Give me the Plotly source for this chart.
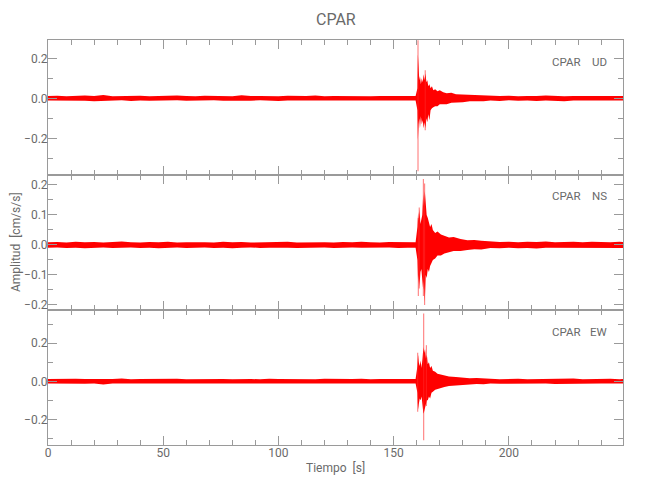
import plotly.graph_objects as go

# ---------------- data ----------------
TITLE = "CPAR"
STATION = "CPAR"
CHANNELS = ["UD", "NS", "EW"]

# sample times of the pre-event noise envelope [s]
T_PRE = [0, 4, 8, 12, 16, 20, 24, 28, 32, 36, 40, 44, 48, 52, 56, 60, 64, 68, 72, 76,
         80, 84, 88, 92, 96, 100, 104, 108, 112, 116, 120, 124, 128, 132, 136, 140, 144, 148, 152, 156]
# sample times of the post-event noise envelope [s]
T_POST = [192, 196, 200, 204, 208, 212, 216, 220, 224, 228, 232, 236, 240, 244, 248, 249.5]

# ---- UD ----
UD_PRE_UP = [0.011, 0.013, 0.010, 0.012, 0.014, 0.011, 0.017, 0.010, 0.012, 0.011,
             0.013, 0.010, 0.012, 0.011, 0.014, 0.011, 0.010, 0.013, 0.011, 0.012,
             0.010, 0.015, 0.011, 0.012, 0.011, 0.010, 0.013, 0.012, 0.011, 0.014,
             0.010, 0.012, 0.011, 0.013, 0.011, 0.010, 0.012, 0.011, 0.013, 0.011]
UD_PRE_LO = [-0.011, -0.010, -0.013, -0.011, -0.012, -0.015, -0.011, -0.012, -0.010, -0.013,
             -0.011, -0.012, -0.014, -0.011, -0.010, -0.012, -0.013, -0.011, -0.010, -0.012,
             -0.011, -0.013, -0.012, -0.010, -0.011, -0.014, -0.011, -0.012, -0.010, -0.011,
             -0.013, -0.011, -0.012, -0.010, -0.011, -0.013, -0.011, -0.012, -0.010, -0.011]
UD_EVT_T = [159.5, 160.3, 160.5, 160.8, 161.1, 161.4, 161.8, 162.2, 162.6, 163.0, 163.4, 163.8,
            164.2, 164.6, 165.0, 165.5, 166.0, 166.6, 167.2, 168.0, 169.0, 170.0, 171.5,
            173.0, 175.0, 177.0, 180.0, 183.0, 186.0, 189.0]
UD_EVT_UP = [0.011, 0.05, 0.22, 0.16, 0.09, 0.11, 0.07, 0.10, 0.08, 0.12, 0.09, 0.125,
             0.08, 0.09, 0.06, 0.07, 0.05, 0.06, 0.04, 0.045, 0.035, 0.04, 0.03,
             0.025, 0.028, 0.02, 0.018, 0.016, 0.017, 0.014]
UD_EVT_LO = [-0.011, -0.06, -0.21, -0.13, -0.10, -0.15, -0.09, -0.13, -0.11, -0.15, -0.12, -0.15,
             -0.10, -0.12, -0.08, -0.11, -0.06, -0.05, -0.045, -0.04, -0.04, -0.03, -0.03,
             -0.03, -0.022, -0.02, -0.02, -0.015, -0.014, -0.015]
UD_POST_UP = [0.012, 0.011, 0.013, 0.010, 0.012, 0.011, 0.014, 0.011, 0.010, 0.012,
              0.011, 0.013, 0.011, 0.012, 0.010, 0.011]
UD_POST_LO = [-0.011, -0.013, -0.010, -0.012, -0.011, -0.014, -0.011, -0.012, -0.015, -0.011,
              -0.010, -0.012, -0.011, -0.013, -0.011, -0.011]
UD_SPIKE_T = [160.55, 163.7]
UD_SPIKE_HI = [0.29, 0.14]
UD_SPIKE_LO = [-0.365, -0.16]

# ---- NS ----
NS_PRE_UP = [0.009, 0.010, 0.008, 0.011, 0.009, 0.010, 0.008, 0.009, 0.012, 0.009,
             0.008, 0.010, 0.009, 0.011, 0.008, 0.009, 0.010, 0.009, 0.008, 0.011,
             0.009, 0.010, 0.008, 0.009, 0.010, 0.009, 0.011, 0.008, 0.009, 0.010,
             0.009, 0.008, 0.010, 0.009, 0.011, 0.009, 0.008, 0.010, 0.009, 0.009]
NS_PRE_LO = [-0.009, -0.008, -0.010, -0.009, -0.011, -0.009, -0.008, -0.010, -0.009, -0.008,
             -0.010, -0.009, -0.011, -0.009, -0.008, -0.010, -0.009, -0.008, -0.010, -0.009,
             -0.011, -0.009, -0.008, -0.010, -0.009, -0.008, -0.009, -0.010, -0.011, -0.009,
             -0.008, -0.010, -0.009, -0.008, -0.009, -0.010, -0.009, -0.008, -0.010, -0.009]
NS_EVT_T = [159.5, 160.3, 160.6, 160.9, 161.2, 161.6, 162.0, 162.4, 162.8, 163.1, 163.5,
            163.9, 164.3, 164.8, 165.3, 165.8, 166.4, 167.0, 168.0, 169.0, 170.5, 172.0,
            174.0, 176.0, 179.0, 182.0, 185.0, 188.0]
NS_EVT_UP = [0.009, 0.06, 0.11, 0.08, 0.12, 0.07, 0.09, 0.10, 0.17, 0.13, 0.18,
             0.12, 0.10, 0.09, 0.07, 0.06, 0.07, 0.05, 0.04, 0.045, 0.035, 0.03,
             0.025, 0.027, 0.02, 0.016, 0.017, 0.014]
NS_EVT_LO = [-0.009, -0.05, -0.13, -0.10, -0.14, -0.09, -0.08, -0.12, -0.15, -0.12, -0.19,
             -0.10, -0.11, -0.08, -0.09, -0.07, -0.06, -0.05, -0.045, -0.035, -0.035, -0.028,
             -0.025, -0.02, -0.02, -0.017, -0.014, -0.015]
NS_POST_UP = [0.012, 0.010, 0.011, 0.009, 0.011, 0.010, 0.012, 0.009, 0.010, 0.011,
              0.009, 0.011, 0.010, 0.009, 0.011, 0.010]
NS_POST_LO = [-0.010, -0.011, -0.009, -0.011, -0.010, -0.012, -0.009, -0.011, -0.010, -0.009,
              -0.011, -0.010, -0.009, -0.011, -0.010, -0.010]
NS_SPIKE_T = [160.7, 161.1, 162.9, 163.4]
NS_SPIKE_HI = [0.09, 0.125, 0.22, 0.205]
NS_SPIKE_LO = [-0.17, -0.145, -0.17, -0.20]

# ---- EW ----
EW_PRE_UP = [0.012, 0.013, 0.011, 0.014, 0.012, 0.011, 0.013, 0.012, 0.015, 0.011,
             0.012, 0.013, 0.011, 0.012, 0.014, 0.011, 0.012, 0.013, 0.011, 0.012,
             0.011, 0.013, 0.012, 0.011, 0.014, 0.012, 0.011, 0.013, 0.012, 0.011,
             0.013, 0.012, 0.011, 0.012, 0.014, 0.011, 0.012, 0.011, 0.013, 0.012]
EW_PRE_LO = [-0.012, -0.011, -0.014, -0.012, -0.013, -0.011, -0.017, -0.012, -0.011, -0.013,
             -0.012, -0.011, -0.013, -0.012, -0.011, -0.014, -0.012, -0.011, -0.013, -0.012,
             -0.011, -0.012, -0.014, -0.011, -0.012, -0.013, -0.011, -0.012, -0.011, -0.013,
             -0.012, -0.011, -0.014, -0.012, -0.011, -0.012, -0.013, -0.011, -0.012, -0.012]
EW_EVT_T = [159.5, 160.3, 160.6, 160.9, 161.3, 161.7, 162.1, 162.5, 162.9, 163.2, 163.6,
            164.0, 164.4, 164.8, 165.3, 165.8, 166.4, 167.0, 168.0, 169.0, 170.5, 172.0,
            174.0, 177.0, 180.0, 183.0, 186.0, 189.0]
EW_EVT_UP = [0.012, 0.08, 0.14, 0.10, 0.08, 0.11, 0.07, 0.12, 0.18, 0.15, 0.17,
             0.12, 0.14, 0.09, 0.10, 0.07, 0.08, 0.055, 0.05, 0.04, 0.035, 0.03,
             0.025, 0.022, 0.02, 0.016, 0.018, 0.014]
EW_EVT_LO = [-0.012, -0.06, -0.15, -0.12, -0.09, -0.10, -0.08, -0.12, -0.17, -0.16, -0.15,
             -0.12, -0.10, -0.10, -0.08, -0.09, -0.06, -0.055, -0.045, -0.04, -0.035, -0.03,
             -0.025, -0.02, -0.018, -0.017, -0.014, -0.015]
EW_POST_UP = [0.013, 0.011, 0.012, 0.014, 0.011, 0.012, 0.011, 0.013, 0.012, 0.015,
              0.011, 0.012, 0.011, 0.013, 0.011, 0.012]
EW_POST_LO = [-0.011, -0.013, -0.012, -0.011, -0.013, -0.012, -0.011, -0.014, -0.012, -0.011,
              -0.013, -0.012, -0.011, -0.012, -0.013, -0.012]
EW_SPIKE_T = [160.4, 163.0, 164.2]
EW_SPIKE_HI = [0.15, 0.356, 0.19]
EW_SPIKE_LO = [-0.16, -0.31, -0.13]

# axis ranges / ticks per panel
Y_RANGES = [[-0.3835, 0.2915], [-0.2167, 0.2333], [-0.335, 0.375]]
Y_DTICK = [0.2, 0.1, 0.2]
Y_MINOR = [0.1, 0.05, 0.1]
X_RANGE = [0, 249.5]
X_TITLE = "Tiempo  [s]"
Y_TITLE = "Amplitud  [cm/s/s]"

# ---------------- figure ----------------
FONT = "Roboto, Liberation Sans, DejaVu Sans"
TXT = "#6a6a6a"
AX = "#9a9a9a"
RED = "#ff0000"

channels = [
    (T_PRE, UD_PRE_UP, UD_PRE_LO, UD_EVT_T, UD_EVT_UP, UD_EVT_LO, T_POST, UD_POST_UP, UD_POST_LO,
     UD_SPIKE_T, UD_SPIKE_HI, UD_SPIKE_LO),
    (T_PRE, NS_PRE_UP, NS_PRE_LO, NS_EVT_T, NS_EVT_UP, NS_EVT_LO, T_POST, NS_POST_UP, NS_POST_LO,
     NS_SPIKE_T, NS_SPIKE_HI, NS_SPIKE_LO),
    (T_PRE, EW_PRE_UP, EW_PRE_LO, EW_EVT_T, EW_EVT_UP, EW_EVT_LO, T_POST, EW_POST_UP, EW_POST_LO,
     EW_SPIKE_T, EW_SPIKE_HI, EW_SPIKE_LO),
]

fig = go.Figure()
domains = [[2 / 3, 1.0], [1 / 3, 2 / 3], [0.0, 1 / 3]]

for i, ch in enumerate(channels):
    tp, pu, pl, te, eu, el, tq, qu, ql, st, sh, sl = ch
    t = list(tp) + list(te) + list(tq)
    up = list(pu) + list(eu) + list(qu)
    lo = list(pl) + list(el) + list(ql)
    xa = "x" if i == 0 else f"x{i + 1}"
    ya = "y" if i == 0 else f"y{i + 1}"
    fig.add_trace(go.Scatter(
        x=t + t[::-1], y=up + lo[::-1], fill="toself", fillcolor=RED,
        mode="lines", line=dict(color=RED, width=0),
        xaxis=xa, yaxis=ya, showlegend=False, hoverinfo="skip"))
    sx, sy = [], []
    for tt, hi, lw in zip(st, sh, sl):
        sx += [tt, tt, None]
        sy += [lw, hi, None]
    fig.add_trace(go.Scatter(
        x=sx, y=sy, mode="lines", line=dict(color="rgba(255,40,40,0.55)", width=1.2),
        xaxis=xa, yaxis=ya, showlegend=False, hoverinfo="skip"))

# page body has an 8px margin: figure sized so the plot area lands where the reference has it
layout = dict(
    width=642, height=492,
    margin=dict(l=40, r=27, t=32, b=55),
    paper_bgcolor="white", plot_bgcolor="white",
    font=dict(family=FONT, color=TXT, size=12),
    showlegend=False,
)

for i in range(3):
    xk = "xaxis" if i == 0 else f"xaxis{i + 1}"
    yk = "yaxis" if i == 0 else f"yaxis{i + 1}"
    ya = "y" if i == 0 else f"y{i + 1}"
    xa = "x" if i == 0 else f"x{i + 1}"
    layout[xk] = dict(
        domain=[0, 1], anchor=ya, range=X_RANGE,
        showline=True, linecolor=AX, linewidth=1, mirror="ticks",
        ticks="inside", ticklen=9, tickcolor=AX, tickwidth=1,
        tick0=0, dtick=50,
        minor=dict(dtick=10, ticklen=5, ticks="inside", tickcolor=AX, tickwidth=1, showgrid=False),
        showgrid=False, zeroline=False,
        showticklabels=(i == 2), ticklabelstandoff=-3,
        tickfont=dict(family=FONT, color=TXT, size=12),
    )
    layout[yk] = dict(
        domain=domains[i], anchor=xa, range=Y_RANGES[i],
        showline=True, linecolor=AX, linewidth=1, mirror="ticks",
        ticks="inside", ticklen=9, tickcolor=AX, tickwidth=1,
        tick0=0, dtick=Y_DTICK[i], tickformat=".1f",
        minor=dict(dtick=Y_MINOR[i], ticklen=5, ticks="inside", tickcolor=AX, tickwidth=1, showgrid=False),
        showgrid=False, zeroline=False, ticklabelstandoff=-3,
        tickfont=dict(family=FONT, color=TXT, size=12),
    )

fig.update_layout(**layout)

# panel labels
label_y = [0.9457, 0.6148, 0.279]
for i, ch in enumerate(CHANNELS):
    fig.add_annotation(xref="paper", yref="paper", x=0.9304, y=label_y[i], text=STATION,
                       showarrow=False, xanchor="right", yanchor="middle",
                       font=dict(family=FONT, color=TXT, size=11.5))
    fig.add_annotation(xref="paper", yref="paper", x=0.9757, y=label_y[i], text=ch,
                       showarrow=False, xanchor="right", yanchor="middle",
                       font=dict(family=FONT, color=TXT, size=11.5))

# title and axis titles
fig.add_annotation(xref="paper", yref="paper", x=0.5, y=1.05, text=TITLE, showarrow=False,
                   xanchor="center", yanchor="middle", font=dict(family=FONT, color=TXT, size=16))
fig.add_annotation(xref="paper", yref="paper", x=0.5, y=-0.057, text=X_TITLE, showarrow=False,
                   xanchor="center", yanchor="middle", font=dict(family=FONT, color=TXT, size=12))
fig.add_annotation(xref="paper", yref="paper", x=-0.0565, y=0.5, text=Y_TITLE, showarrow=False,
                   textangle=-90, xanchor="center", yanchor="middle",
                   font=dict(family=FONT, color=TXT, size=12))

fig.write_html("out.html")
